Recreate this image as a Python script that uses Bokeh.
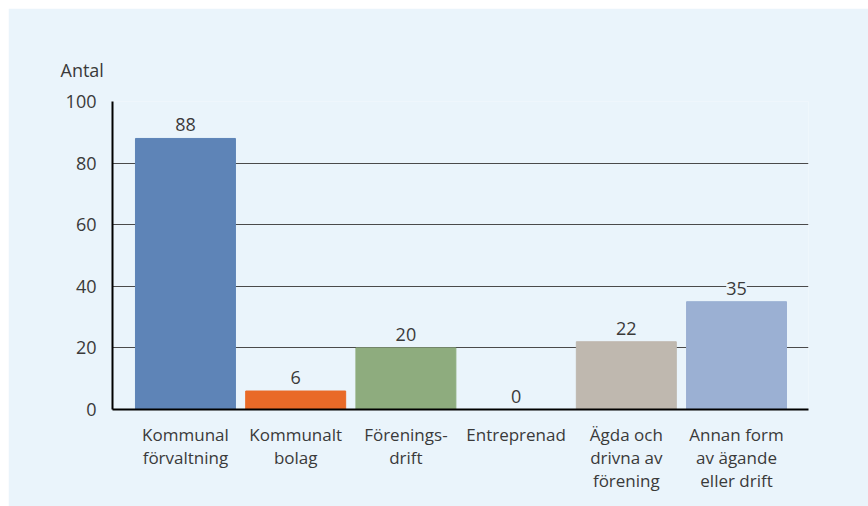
from bokeh.plotting import figure
from bokeh.models import ColumnDataSource, LabelSet, FixedTicker, Range1d
from bokeh.core.properties import value
from bokeh.embed import file_html
from bokeh.resources import INLINE

categories = ["Kommunal\nförvaltning", "Kommunalt\nbolag", "Förenings-\ndrift",
              "Entreprenad", "Ägda och\ndrivna av\nförening", "Annan form\nav ägande\neller drift"]
values = [88, 6, 20, 0, 22, 35]
colors = ["#5e84b7", "#e96a28", "#8eac7e", "#bdb5ad", "#bfb8af", "#9bb0d3"]
y_ticks = [0, 20, 40, 60, 80, 100]

BG = "#eaf4fb"
TXT = "#3a3a3a"
FONT = "Open Sans"

xs = list(range(len(categories)))
src = ColumnDataSource(dict(x=xs, top=values, color=colors, lbl=[str(v) for v in values]))

p = figure(width=860, height=498, output_backend="svg", toolbar_location=None,
           x_range=Range1d(-0.662, 5.653), y_range=Range1d(0, 100))
p.margin = (8, 0, 0, 8)
p.background_fill_color = BG
p.border_fill_color = BG
p.outline_line_color = None
p.min_border_left = 104
p.min_border_top = 93
p.min_border_right = 60
p.min_border_bottom = 97

p.vbar(x="x", top="top", width=0.907, color="color", source=src)

labels = LabelSet(x="x", y="top", text="lbl", source=src, text_align="center",
                  text_baseline="bottom", y_offset=7, text_font=value(FONT),
                  text_font_size=value("18px"), text_color=value(TXT),
                  background_fill_color=BG)
p.add_layout(labels)

p.title.text = "Antal"
p.title.align = "left"
p.title.offset = -52
p.title.standoff = 40
p.title.text_font = FONT
p.title.text_font_size = "18px"
p.title.text_font_style = "normal"
p.title.text_color = TXT

p.xgrid.grid_line_color = None
p.ygrid.grid_line_color = "#4a4a4a"
p.ygrid.grid_line_width = 1.2
p.ygrid.ticker = FixedTicker(ticks=y_ticks)

p.yaxis.ticker = FixedTicker(ticks=y_ticks)
p.yaxis.axis_line_color = "black"
p.yaxis.axis_line_width = 2
p.yaxis.major_tick_line_color = None
p.yaxis.minor_tick_line_color = None
p.yaxis.major_label_standoff = 10
p.yaxis.major_label_text_font = FONT
p.yaxis.major_label_text_font_size = "18px"
p.yaxis.major_label_text_color = TXT

p.xaxis.ticker = FixedTicker(ticks=xs)
p.xaxis.major_label_overrides = {i: c for i, c in enumerate(categories)}
p.xaxis.axis_line_color = "black"
p.xaxis.axis_line_width = 2
p.xaxis.major_tick_line_color = None
p.xaxis.minor_tick_line_color = None
p.xaxis.major_label_standoff = 7
p.xaxis.major_label_text_font = FONT
p.xaxis.major_label_text_font_size = "17px"
p.xaxis.major_label_text_color = TXT
p.xaxis.major_label_text_line_height = 1.0

open("out.html", "w").write(file_html(p, INLINE))
